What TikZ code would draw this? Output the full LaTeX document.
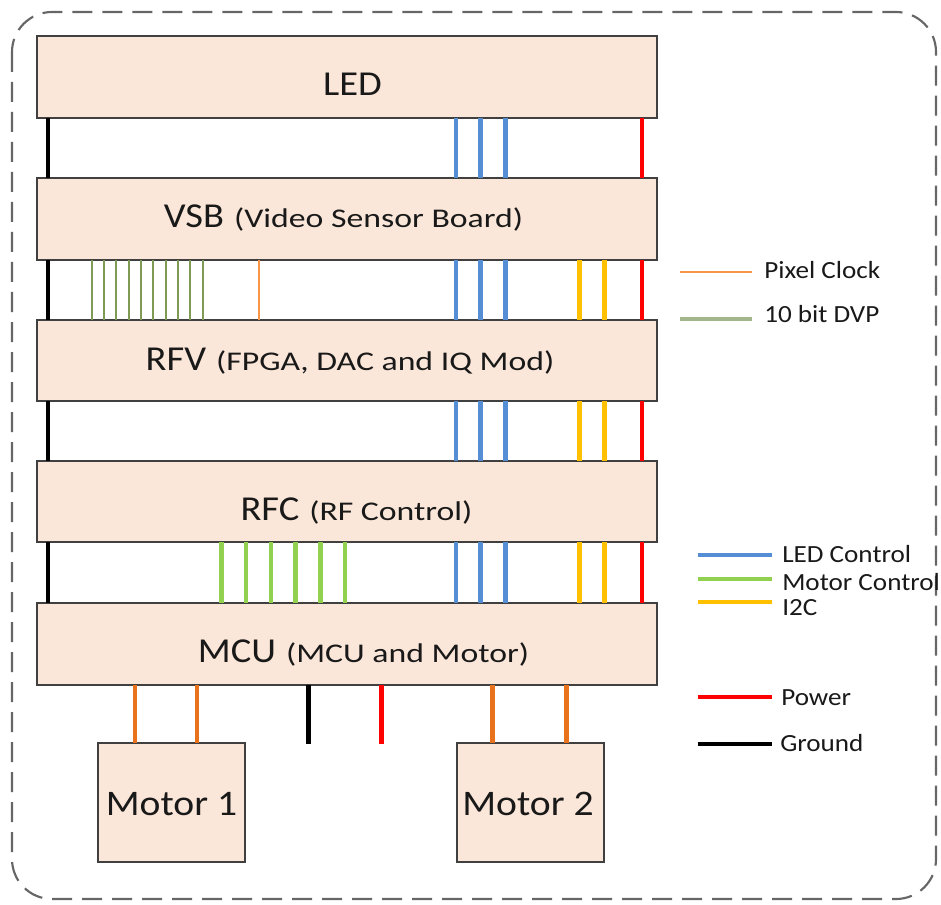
\documentclass[tikz,border=0pt]{standalone}
\usepackage{fontspec}
\setmainfont{Carlito}
\newfontfamily\bigf[FakeStretch=1.1]{Carlito}
\newfontfamily\smallf[FakeStretch=1.25]{Carlito}
\definecolor{boxfill}{HTML}{FBE7D9}
\definecolor{boxline}{HTML}{404040}
\definecolor{ledblue}{HTML}{558ED5}
\definecolor{motgreen}{HTML}{92D050}
\definecolor{i2cyel}{HTML}{FFC000}
\definecolor{pwrred}{HTML}{FF0000}
\definecolor{motorange}{HTML}{E8731C}
\definecolor{pclkorange}{HTML}{F79646}
\definecolor{dvpolive}{HTML}{7F9A55}
\definecolor{dvplegend}{HTML}{A3B58A}
\definecolor{outerdash}{HTML}{666666}
\newcommand{\bigpart}[1]{{\fontsize{26.25}{30}\bigf #1}}
\newcommand{\smallpart}[1]{{\fontsize{20.25}{24}\smallf #1}}
\begin{document}
\begin{tikzpicture}[x=0.75pt,y=-0.75pt,
  board/.style={draw=boxline, line width=1.6pt, fill=boxfill, minimum width=465pt, minimum height=61pt, inner sep=0pt, outer sep=0pt},
  motorbox/.style={draw=boxline, line width=1.6pt, fill=boxfill, minimum width=110pt, minimum height=89pt, inner sep=0pt, outer sep=0pt},
  boardtext/.style={anchor=base, inner sep=0pt, text=black!90},
  bigtxt/.style={font=\fontsize{26.25}{30}\bigf},
  legtxt/.style={anchor=base west, inner sep=0pt, font=\fontsize{18.5}{21}\bigf, text=black!90},
  gnd/.style={draw=black, line width=3.6pt},
  ledc/.style={draw=ledblue, line width=3.4pt},
  motc/.style={draw=motgreen, line width=3.4pt},
  i2c/.style={draw=i2cyel, line width=3.4pt},
  pwr/.style={draw=pwrred, line width=3.4pt},
  mot/.style={draw=motorange, line width=3.4pt},
  dvp/.style={draw=dvpolive, line width=1.4pt},
  pclk/.style={draw=pclkorange, line width=1.4pt}
]
\useasboundingbox (0,0) rectangle (941,905);
% outer dashed frame
\draw[draw=outerdash, line width=1.6pt, dash pattern=on 15pt off 7.5pt, rounded corners=30pt] (12,12) rectangle (936,899);

% boards
\node[board] (led) at (347,77) {};
\node[board] (vsb) at (347,219) {};
\node[board] (rfv) at (347,360.5) {};
\node[board] (rfc) at (347,501.5) {};
\node[board] (mcu) at (347,644) {};
\node[motorbox] (m1) at (171.5,802.75) {};
\node[motorbox] (m2) at (530.5,802.75) {};

% board texts
\node[boardtext, bigtxt] (ledt) at (352.5,96) {LED};
\node[boardtext] (vsbt) at (343.5,228) {\bigpart{VSB}\hspace{7.5pt}\smallpart{(Video Sensor Board)}};
\node[boardtext] (rfvt) at (350,370) {\bigpart{RFV}\hspace{7.5pt}\smallpart{(FPGA, DAC and IQ Mod)}};
\node[boardtext] (rfct) at (356.5,520) {\bigpart{RFC}\hspace{7.5pt}\smallpart{(RF Control)}};
\node[boardtext] (mcut) at (363.5,662) {\bigpart{MCU}\hspace{7.5pt}\smallpart{(MCU and Motor)}};
\node[boardtext, font=\fontsize{27}{31}\bigf] (m1t) at (171.5,815) {Motor 1};
\node[boardtext, font=\fontsize{27}{31}\bigf] (m2t) at (528,815) {Motor 2};

% buses between every pair of boards
\foreach \a/\b in {led/vsb,vsb/rfv,rfv/rfc,rfc/mcu}{
  \draw[gnd] (48,0 |- \a.south) -- (48,0 |- \b.north);
  \foreach \x in {456.2,480.4,505.6}
    \draw[ledc] (\x,0 |- \a.south) -- (\x,0 |- \b.north);
  \draw[pwr] (642,0 |- \a.south) -- (642,0 |- \b.north);
}
\foreach \a/\b in {vsb/rfv,rfv/rfc,rfc/mcu}{
  \foreach \x in {579.4,604.3}
    \draw[i2c] (\x,0 |- \a.south) -- (\x,0 |- \b.north);
}
% 10 bit DVP and pixel clock
\foreach \k in {0,...,9}
  \draw[dvp] ({91.7+12.33*\k},0 |- vsb.south) -- ({91.7+12.33*\k},0 |- rfv.north);
\draw[pclk] (258.7,0 |- vsb.south) -- (258.7,0 |- rfv.north);
% motor control
\foreach \k in {0,...,5}
  \draw[motc] ({221.5+24.7*\k},0 |- rfc.south) -- ({221.5+24.7*\k},0 |- mcu.north);

% MCU to motors
\foreach \x in {135,197}
  \draw[mot] (\x,0 |- mcu.south) -- (\x,0 |- m1.north);
\foreach \x in {492.5,566.5}
  \draw[mot] (\x,0 |- mcu.south) -- (\x,0 |- m2.north);
\coordinate (gndend) at (308.5,744);
\coordinate (pwrend) at (381.5,744);
\draw[gnd, line width=3.2pt] (gndend |- mcu.south) -- (gndend);
\draw[pwr, line width=3.2pt] (pwrend |- mcu.south) -- (pwrend);

% legend
\coordinate (lpcA) at (680,272); \coordinate (lpcB) at (752,272);
\draw[draw=pclkorange, line width=2.2pt] (lpcA) -- (lpcB);
\node[legtxt] (lpct) at (764,279) {Pixel Clock};
\coordinate (ldvA) at (680,319); \coordinate (ldvB) at (752,319);
\draw[draw=dvplegend, line width=2.6pt] (ldvA) -- (ldvB);
\node[legtxt] (ldvt) at (764,322.5) {10 bit DVP};

\coordinate (lledA) at (698,555); \coordinate (lledB) at (772,555);
\draw[ledc] (lledA) -- (lledB);
\node[legtxt] (lledt) at (782,562.7) {LED Control};
\coordinate (lmcA) at (698,579); \coordinate (lmcB) at (772,579);
\draw[motc] (lmcA) -- (lmcB);
\node[legtxt] (lmct) at (782,590.5) {Motor Control};
\coordinate (li2A) at (698,602); \coordinate (li2B) at (772,602);
\draw[i2c] (li2A) -- (li2B);
\node[legtxt] (li2t) at (782,615.5) {I2C};
\coordinate (lpwA) at (698,697); \coordinate (lpwB) at (772,697);
\draw[pwr] (lpwA) -- (lpwB);
\node[legtxt] (lpwt) at (781,705.7) {Power};
\coordinate (lgnA) at (698,744); \coordinate (lgnB) at (772,744);
\draw[gnd] (lgnA) -- (lgnB);
\node[legtxt] (lgnt) at (780,751.7) {Ground};
\end{tikzpicture}
\end{document}
